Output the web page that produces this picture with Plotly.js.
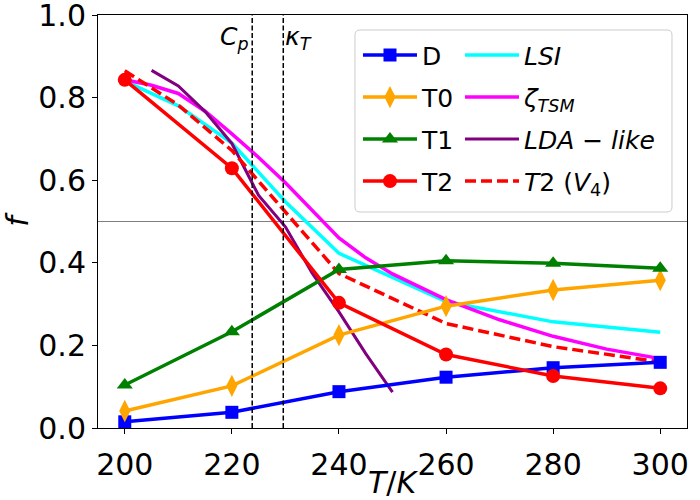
<!DOCTYPE html>
<html>
<head>
<meta charset="utf-8">
<script src="https://cdn.plot.ly/plotly-3.0.1.min.js"></script>
<style>
  body { margin: 0; background: #fff; }
  #chart { width: 700px; height: 500px; }
</style>
</head>
<body>
<div id="chart"></div>
<script>
// simulation temperatures (K)
const temps = [200, 220, 240, 260, 280, 300];

// populations per structure
const fracD  = [0.015, 0.038, 0.088, 0.123, 0.146, 0.159];
const fracT0 = [0.041, 0.102, 0.225, 0.295, 0.334, 0.358];
const fracT1 = [0.104, 0.233, 0.384, 0.405, 0.399, 0.387];
const fracT2 = [0.843, 0.629, 0.303, 0.178, 0.126, 0.096];

// order-parameter estimates
const lsiT = [200, 210, 220, 230, 240, 260, 280, 300];
const fracLSI = [0.840, 0.780, 0.690, 0.548, 0.423, 0.306, 0.257, 0.232];

const zetaT = [200, 205, 210, 215, 220, 225, 230, 235, 240, 245, 250, 260, 270, 280, 290, 300];
const fracZeta = [0.843, 0.830, 0.810, 0.767, 0.712, 0.655, 0.594, 0.528, 0.460, 0.412, 0.373, 0.311, 0.262, 0.222, 0.191, 0.168];

const ldaT = [205, 210, 215, 220, 225, 230, 235, 240, 245, 250];
const fracLDA = [0.866, 0.828, 0.766, 0.689, 0.563, 0.487, 0.375, 0.281, 0.180, 0.087];

const v4T = [200, 210, 220, 240, 260, 280, 300];
const fracT2V4 = [0.865, 0.782, 0.672, 0.374, 0.253, 0.197, 0.160];

// response function maxima (K)
const cpMax = 223.8;
const kappaMax = 229.6;

const yTicks = [0, 0.2, 0.4, 0.6, 0.8, 1.0];

const font = "DejaVu Sans, sans-serif";

function curve(name, x, y, color, extra) {
  return Object.assign({
    x: x, y: y, name: name, type: "scatter", mode: "lines",
    line: { color: color, width: 3.5 },
    legend: "legend2", legendgroup: name
  }, extra || {});
}

// marker series sit on the overlay axis (which carries the tick labels)
function series(name, y, color, symbol, size) {
  return {
    x: temps, y: y, name: name, type: "scatter", mode: "lines+markers",
    xaxis: "x2",
    line: { color: color, width: 3.5 },
    marker: { color: color, symbol: symbol, size: size },
    legend: "legend", legendgroup: name
  };
}

var data = [
  curve("<i>LSI</i>", lsiT, fracLSI, "#00ffff"),
  curve("<i>ζ<sub>TSM</sub></i>", zetaT, fracZeta, "#ff00ff"),
  curve("<i>LDA</i> − <i>like</i>", ldaT, fracLDA, "#800080", { line: { color: "#800080", width: 3 } }),
  curve("<i>T</i>2 (<i>V</i><sub>4</sub>)", v4T, fracT2V4, "#ff0000", { line: { color: "#ff0000", width: 3.5, dash: "11px,5px" } }),
  series("D", fracD, "#0000ff", "square", 13),
  series("T0", fracT0, "#ffa500", "diamond-tall", 16),
  series("T1", fracT1, "#008000", "triangle-up", 14),
  series("T2", fracT2, "#ff0000", "circle", 14),
];

// rounded legend frame in paper units
function roundedBox(x0, y0, x1, y1, rx, ry) {
  return "M" + (x0 + rx) + "," + y1 + " L" + (x1 - rx) + "," + y1 +
    " Q" + x1 + "," + y1 + " " + x1 + "," + (y1 - ry) +
    " L" + x1 + "," + (y0 + ry) +
    " Q" + x1 + "," + y0 + " " + (x1 - rx) + "," + y0 +
    " L" + (x0 + rx) + "," + y0 +
    " Q" + x0 + "," + y0 + " " + x0 + "," + (y0 + ry) +
    " L" + x0 + "," + (y1 - ry) +
    " Q" + x0 + "," + y1 + " " + (x0 + rx) + "," + y1 + " Z";
}

var legendCommon = {
  font: { family: font, size: 25, color: "#000" },
  bgcolor: "rgba(0,0,0,0)", borderwidth: 0,
  xanchor: "left", yanchor: "top",
  itemwidth: 54, tracegroupgap: 6.5, traceorder: "grouped"
};

var layout = {
  width: 700, height: 500,
  margin: { l: 98, r: 13, t: 15, b: 72, autoexpand: false },
  paper_bgcolor: "#fff", plot_bgcolor: "#fff",
  font: { family: font, size: 30, color: "#000" },
  showlegend: true,
  legend: Object.assign({ x: 0.4414, y: 0.958 }, legendCommon),
  legend2: Object.assign({ x: 0.6146, y: 0.958 }, legendCommon),
  xaxis: {
    range: [195, 305], tick0: 200, dtick: 20,
    ticks: "outside", ticklen: 5, tickwidth: 1, tickcolor: "#000",
    showticklabels: false,
    showline: true, linecolor: "#000", linewidth: 1, mirror: true,
    showgrid: false, zeroline: false
  },
  // label-only axis: longer invisible ticks push the numbers down
  xaxis2: {
    overlaying: "x", matches: "x", anchor: "y", side: "bottom",
    tick0: 200, dtick: 20,
    ticks: "outside", ticklen: 10, tickcolor: "rgba(0,0,0,0)",
    showline: false, showgrid: false, zeroline: false,
    tickfont: { family: font, size: 30 }
  },
  yaxis: {
    range: [0, 1], tickmode: "array", tickvals: yTicks,
    ticktext: yTicks.map(v => v.toFixed(1)),
    ticks: "outside", ticklen: 5, tickwidth: 1, tickcolor: "#000",
    ticklabeloverflow: "allow",
    showline: true, linecolor: "#000", linewidth: 1, mirror: true,
    showgrid: false, zeroline: false,
    tickfont: { family: font, size: 30 },
    title: { text: "<i>f</i>", font: { family: font, size: 30 } }
  },
  shapes: [
    { type: "line", xref: "paper", yref: "y", x0: 0, x1: 1, y0: 0.5, y1: 0.5,
      line: { color: "#808080", width: 1 }, layer: "below" },
    { type: "line", xref: "x", yref: "paper", x0: cpMax, x1: cpMax, y0: 0, y1: 1,
      line: { color: "#000", width: 1.5, dash: "5px,2.5px" }, layer: "above" },
    { type: "line", xref: "x", yref: "paper", x0: kappaMax, x1: kappaMax, y0: 0, y1: 1,
      line: { color: "#000", width: 1.5, dash: "5px,2.5px" }, layer: "above" },
    { type: "path", xref: "paper", yref: "paper",
      path: roundedBox(0.4363, 0.523, 0.9745, 0.9637, 0.0085, 0.0121),
      fillcolor: "rgba(255,255,255,0.8)", line: { color: "#cccccc", width: 1 }, layer: "above" }
  ],
  annotations: [
    { x: cpMax, y: 0.945, xref: "x", yref: "paper", xanchor: "right", yanchor: "middle",
      text: "<i>C<sub>p</sub></i>", showarrow: false, xshift: -1,
      font: { family: font, size: 25, color: "#000" } },
    { x: kappaMax, y: 0.945, xref: "x", yref: "paper", xanchor: "left", yanchor: "middle",
      text: "<i>κ<sub>T</sub></i>", showarrow: false, xshift: 0,
      font: { family: font, size: 25, color: "#000" } },
    // x-axis title
    { x: 0.5, y: -0.133, xref: "paper", yref: "paper", xanchor: "center", yanchor: "middle",
      text: "<i>T</i>/<i>K</i>", showarrow: false, borderpad: 0,
      font: { family: font, size: 30, color: "#000" } }
  ]
};

Plotly.newPlot("chart", data, layout, { displayModeBar: false, staticPlot: true });
</script>
</body>
</html>
